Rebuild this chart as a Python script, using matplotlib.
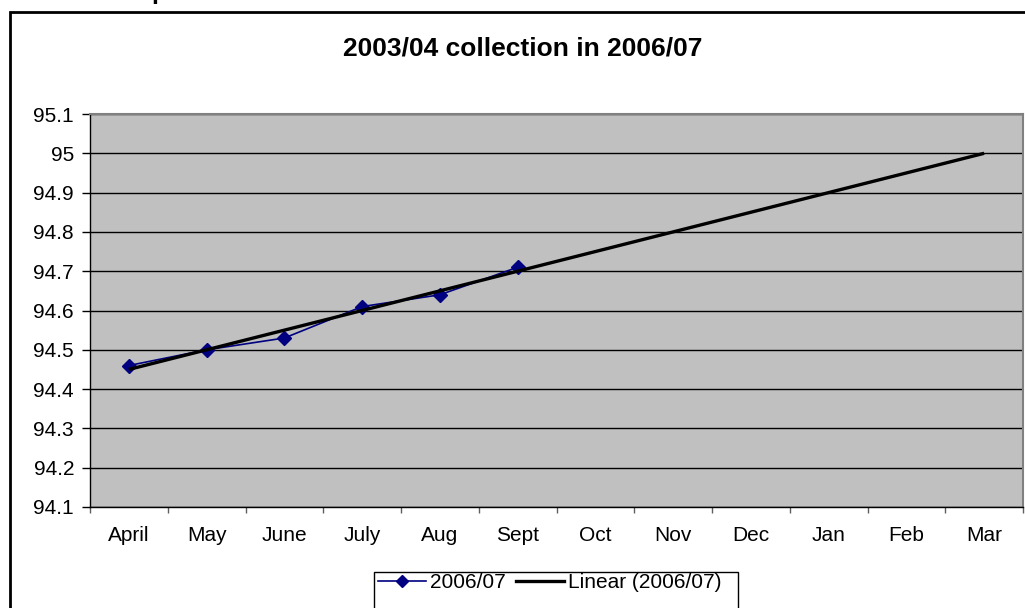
import numpy as np
import matplotlib
matplotlib.use("Agg")
import matplotlib.pyplot as plt
from matplotlib.patches import Rectangle
from matplotlib.lines import Line2D

plt.rcParams['font.family'] = ['Liberation Sans', 'DejaVu Sans']

months = ["April", "May", "June", "July", "Aug", "Sept", "Oct", "Nov", "Dec", "Jan", "Feb", "Mar"]
values_2006_07 = [94.46, 94.50, 94.53, 94.61, 94.64, 94.71]
series_label = "2006/07"
trend_label = "Linear (2006/07)"
title = "2003/04 collection in 2006/07"
y_ticks = [94.1, 94.2, 94.3, 94.4, 94.5, 94.6, 94.7, 94.8, 94.9, 95.0, 95.1]

W, H = 1025, 608
fig = plt.figure(figsize=(W / 100, H / 100), dpi=100)
fig.patch.set_facecolor("white")

# outer chart frame (cropped at right and bottom)
fig.add_artist(Rectangle((10 / W, -0.2), 1.2, 1 - 12 / H + 0.2, transform=fig.transFigure,
                         fill=False, edgecolor="black", linewidth=2))
# fragment of heading cut off at the top
fig.text(151 / W, 1 + 1.5 / H, "p", fontsize=18, fontweight="bold", va="baseline", ha="left")

ax = fig.add_axes([90 / W, (H - 507) / H, (1023 - 90) / W, (507 - 114) / H])
ax.set_facecolor("#C0C0C0")

x = np.arange(len(values_2006_07))
ax.plot(x, values_2006_07, color="#000080", linewidth=1.2, marker="D", markersize=7.5,
        markerfacecolor="#000080", markeredgecolor="#000080", zorder=3)

# linear trendline over full year
coef = np.polyfit(x, values_2006_07, 1)
xt = np.array([0, len(months) - 1])
ax.plot(xt, np.polyval(coef, xt), color="black", linewidth=2.4, zorder=4, solid_capstyle="butt")

ax.set_xlim(-0.5, len(months) - 0.5)
ax.set_ylim(94.1, 95.1)
ax.set_yticks(y_ticks)
ax.set_yticklabels([f"{v:g}" for v in y_ticks])
ax.yaxis.grid(True, color="black", linewidth=1)
ax.set_axisbelow(True)

ax.set_xticks(np.arange(-0.5, len(months), 1.0))
ax.set_xticklabels([])
ax.set_xticks(np.arange(len(months)), minor=True)
ax.set_xticklabels(months, minor=True)
ax.tick_params(axis="x", which="major", direction="out", length=4.5, width=1, color="#606060")
ax.tick_params(axis="x", which="minor", length=0, pad=14, labelsize=15)
ax.tick_params(axis="y", direction="out", length=5.5, width=1, color="black", pad=6, labelsize=15)

for s in ["top", "right"]:
    ax.spines[s].set_color("#808080")
    ax.spines[s].set_linewidth(1.5)
for s in ["left", "bottom"]:
    ax.spines[s].set_color("black")
    ax.spines[s].set_linewidth(1)

fig.text(523 / W, 1 - 48 / H, title, fontsize=19, fontweight="bold", ha="center", va="center")

# legend
fig.add_artist(Rectangle((374 / W, -0.2), (738 - 374) / W, 1 - 572 / H + 0.2,
                         transform=fig.transFigure, fill=True, facecolor="white",
                         edgecolor="black", linewidth=1))
handles = [
    Line2D([], [], color="#000080", linewidth=1.2, marker="D", markersize=6,
           markerfacecolor="#000080"),
    Line2D([], [], color="black", linewidth=2.4),
]
fig.legend(handles, [series_label, trend_label], loc="upper left",
           bbox_to_anchor=(376 / W, 1 - 571 / H), ncol=2, frameon=False,
           fontsize=15, handlelength=2.3, handletextpad=0.2, columnspacing=0.5,
           borderpad=0.1, borderaxespad=0)

fig.savefig("out.png", dpi=100)
